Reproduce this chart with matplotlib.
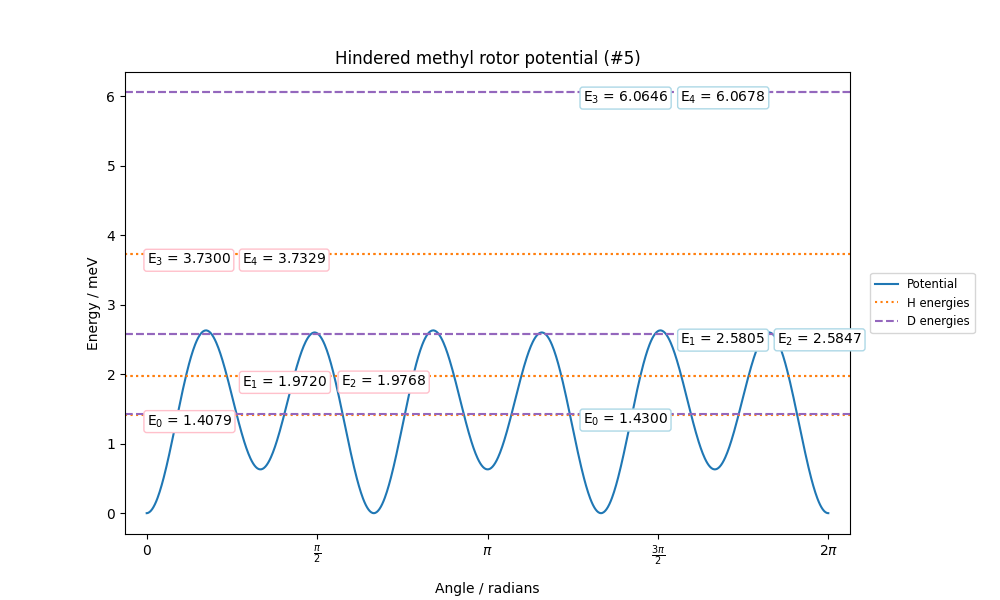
import matplotlib
matplotlib.use("Agg")
import matplotlib.pyplot as plt
import numpy as np

# potential coefficients (meV)
V3 = 0.63
V6 = 2.29
S3 = 0.015

h_energies = [1.4079, 1.9720, 1.9768, 3.7300, 3.7329]
d_energies = [1.4300, 2.5805, 2.5847, 6.0646, 6.0678]
label_slot = [0, 1, 2, 0, 1]
h_slots = [0.0, 0.88, 1.79]
d_slots = [4.02, 4.92, 5.81]

theta = np.linspace(0, 2 * np.pi, 1000)
pot = V3 / 2 * (1 - np.cos(3 * theta)) + V6 / 2 * (1 - np.cos(6 * theta)) + S3 * np.sin(3 * theta)

fig, ax = plt.subplots(figsize=(10, 6))
fig.subplots_adjust(left=0.125, right=0.85, top=0.88, bottom=0.11)
ax.plot(theta, pot, label="Potential")
for i, e in enumerate(h_energies):
    ax.axhline(e, color="C1", ls=":", label="H energies" if i == 0 else None)
    ax.text(h_slots[label_slot[i]], e - 0.09, "E$_%d$ = %.4f" % (i, e), va="center", ha="left",
            bbox=dict(boxstyle="round,pad=0.2", fc="white", ec="pink"))
for i, e in enumerate(d_energies):
    ax.axhline(e, color="C4", ls="--", label="D energies" if i == 0 else None)
    ax.text(d_slots[label_slot[i]], e - 0.09, "E$_%d$ = %.4f" % (i, e), va="center", ha="left",
            bbox=dict(boxstyle="round,pad=0.2", fc="white", ec="lightblue"))

ax.set_xlim(-0.2, 2 * np.pi + 0.2)
ax.set_ylim(-0.3, 6.35)
ax.set_xticks([0, np.pi / 2, np.pi, 3 * np.pi / 2, 2 * np.pi])
ax.set_xticklabels(["0", r"$\frac{\pi}{2}$", r"$\pi$", r"$\frac{3\pi}{2}$", r"$2\pi$"])
ax.set_xlabel("Angle / radians", labelpad=10)
ax.set_ylabel("Energy / meV")
ax.set_title("Hindered methyl rotor potential (#5)")
ax.legend(loc="center left", bbox_to_anchor=(1.02, 0.5), fontsize="small")
fig.savefig("out.png", dpi=100)
